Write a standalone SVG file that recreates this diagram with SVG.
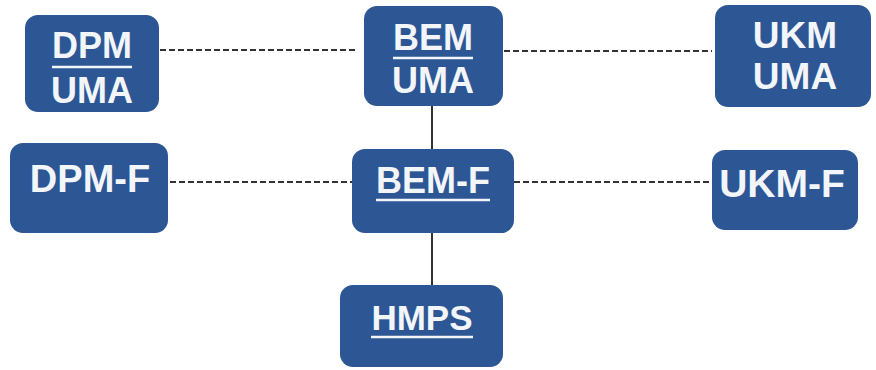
<svg xmlns="http://www.w3.org/2000/svg" width="876" height="370" viewBox="0 0 876 370">
<style>
.box{fill:#2C5694;}
.t{font-family:"Liberation Sans",Arial,sans-serif;font-weight:bold;fill:#F2F5FA;text-anchor:middle;}
.ul{stroke:#F2F5FA;stroke-width:2.5;}
.dash{stroke:#333;stroke-width:2;stroke-dasharray:6 3;fill:none;}
.solid{stroke:#333;stroke-width:2;fill:none;}
</style>
<rect width="876" height="370" fill="#FFFFFF"/>
<g id="connectors">
<line class="dash" x1="160" y1="50" x2="356" y2="50"/>
<line class="dash" x1="504" y1="51" x2="712" y2="51"/>
<line class="dash" x1="170" y1="182" x2="352" y2="182"/>
<line class="dash" x1="514" y1="182" x2="712" y2="182"/>
<line class="solid" x1="432" y1="106" x2="432" y2="149"/>
<line class="solid" x1="432" y1="233" x2="432" y2="285"/>
</g>
<g id="dpm-uma">
<rect class="box" x="25" y="15" width="134" height="97" rx="13"/>
<text class="t" x="92" y="58" font-size="36">DPM</text>
<line class="ul" x1="52" y1="67" x2="132" y2="67"/>
<text class="t" x="92" y="103" font-size="36">UMA</text>
</g>
<g id="bem-uma">
<rect class="box" x="364" y="6" width="139" height="100" rx="13"/>
<text class="t" x="433" y="50" font-size="36">BEM</text>
<line class="ul" x1="393" y1="58" x2="473" y2="58"/>
<text class="t" x="433" y="93" font-size="36">UMA</text>
</g>
<g id="ukm-uma">
<rect class="box" x="715" y="5" width="156" height="102" rx="13"/>
<text class="t" x="795" y="48" font-size="37">UKM</text>
<text class="t" x="795" y="89" font-size="37">UMA</text>
</g>
<g id="dpm-f">
<rect class="box" x="10" y="143" width="158" height="90" rx="13"/>
<text class="t" x="90" y="192" font-size="38">DPM-F</text>
</g>
<g id="bem-f">
<rect class="box" x="352" y="149" width="162" height="84" rx="13"/>
<text class="t" x="433" y="193" font-size="36">BEM-F</text>
<line class="ul" x1="376" y1="200" x2="490" y2="200"/>
</g>
<g id="ukm-f">
<rect class="box" x="712" y="150" width="146" height="80" rx="13"/>
<text class="t" x="782" y="197" font-size="39">UKM-F</text>
</g>
<g id="hmps">
<rect class="box" x="340" y="285" width="163" height="82" rx="13"/>
<text class="t" x="422" y="330" font-size="35">HMPS</text>
<line class="ul" x1="371" y1="337" x2="473" y2="337"/>
</g>
</svg>
